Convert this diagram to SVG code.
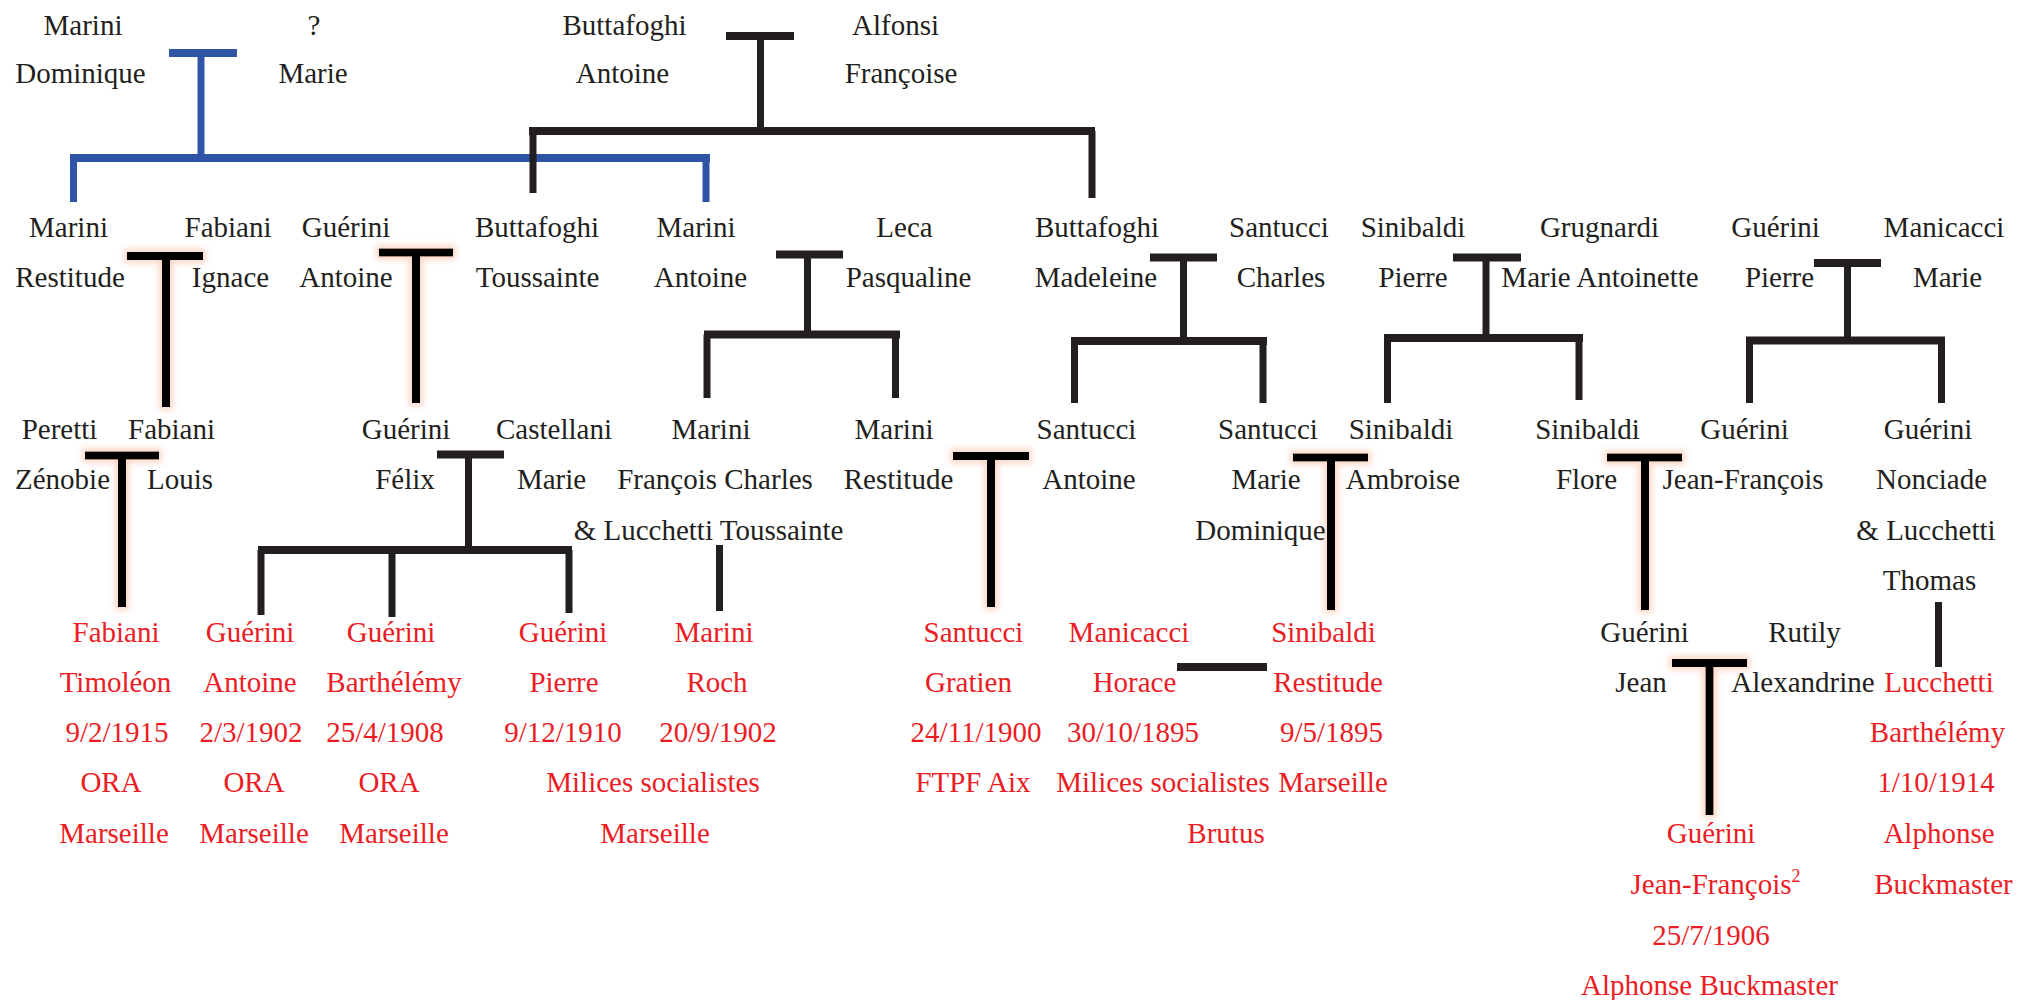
<svg xmlns="http://www.w3.org/2000/svg" width="2018" height="1000" viewBox="0 0 2018 1000">
<style>
text{font-family:"Liberation Serif","Times New Roman",serif;font-size:29px;text-anchor:middle;fill:#231f20}
.r text{fill:#ed1c24}
.k{fill:none;stroke:#231f20;stroke-width:7}
.kb{fill:none;stroke:#231f20;stroke-width:8}
.b{fill:none;stroke:#2f54a5;stroke-width:7}
.bb{fill:none;stroke:#2f54a5;stroke-width:8}
.g path{fill:none;stroke:#000;stroke-width:8}
</style>
<defs>
<filter id="glow" filterUnits="userSpaceOnUse" x="0" y="0" width="2018" height="1000">
<feMorphology in="SourceAlpha" operator="dilate" radius="3" result="d"/>
<feGaussianBlur in="d" stdDeviation="3" result="bl"/>
<feFlood flood-color="#f6a37e" flood-opacity="0.45"/>
<feComposite in2="bl" operator="in" result="gl"/>
<feMerge><feMergeNode in="gl"/><feMergeNode in="SourceGraphic"/></feMerge>
</filter>
</defs>
<rect width="2018" height="1000" fill="#fff"/>

<g id="connectors">
<!-- blue family -->
<path class="bb" d="M169 53H237"/>
<path class="b" d="M201 53V158"/>
<path class="bb" d="M70 158H710"/>
<path class="b" d="M73.5 158V202M706 158V202"/>
<!-- Buttafoghi/Alfonsi -->
<path class="kb" d="M726 36H794"/>
<path class="k" d="M760.5 36V131"/>
<path class="kb" d="M529 131H1095"/>
<path class="k" d="M533 131V193M1092 131V198"/>
<!-- glow Ts -->
<g class="g" filter="url(#glow)"><path d="M127 256H203M166 256V407"/></g>
<g class="g" filter="url(#glow)"><path d="M379 252.5H453M416 252.5V403"/></g>
<g class="g" filter="url(#glow)"><path d="M85 455.5H159M122 455.5V607"/></g>
<g class="g" filter="url(#glow)"><path d="M953 456H1029M991 456V607"/></g>
<g class="g" filter="url(#glow)"><path d="M1293 457.5H1368M1331 457.5V610"/></g>
<g class="g" filter="url(#glow)"><path d="M1607 457.5H1682M1645 457.5V610"/></g>
<g class="g" filter="url(#glow)"><path d="M1672 663H1747M1709.5 663V815"/></g>
<!-- Guérini Félix / Castellani -->
<path class="kb" d="M437 454.5H504"/>
<path class="k" d="M468.5 454.5V550"/>
<path class="kb" d="M258 550H572"/>
<path class="k" d="M261 550V615M392 550V617M569 550V613"/>
<!-- Marini François Charles -->
<path class="k" d="M719.5 545V611"/>
<!-- Marini/Leca -->
<path class="kb" d="M776 254.5H843"/>
<path class="k" d="M807.5 254.5V334.5"/>
<path class="kb" d="M704 334.5H900"/>
<path class="k" d="M707 334.5V398M895.5 334.5V398"/>
<!-- Buttafoghi/Santucci -->
<path class="kb" d="M1150 257.5H1217"/>
<path class="k" d="M1183.5 257.5V341"/>
<path class="kb" d="M1071 341H1267"/>
<path class="k" d="M1074.5 341V403M1263 341V403"/>
<!-- Sinibaldi/Grugnardi -->
<path class="kb" d="M1453 257.5H1521"/>
<path class="k" d="M1486 257.5V338"/>
<path class="kb" d="M1384 338H1583"/>
<path class="k" d="M1387.5 338V403M1579 338V400"/>
<!-- Guérini/Manicacci -->
<path class="kb" d="M1814 263H1881"/>
<path class="k" d="M1847.5 263V340.5"/>
<path class="kb" d="M1746 340.5H1945"/>
<path class="k" d="M1749.5 340.5V403M1941.5 340.5V403"/>
<!-- Manicacci Horace - Sinibaldi Restitude -->
<path class="kb" d="M1177 667H1267"/>
<!-- Lucchetti -->
<path class="k" d="M1938.5 602V667"/>
</g>

<g id="marini-dominique"><text x="83" y="35">Marini</text><text x="80.5" y="83">Dominique</text></g>
<g id="unknown-marie"><text x="314" y="35">?</text><text x="313" y="83">Marie</text></g>
<g id="buttafoghi-antoine"><text x="624.5" y="35">Buttafoghi</text><text x="622.5" y="83">Antoine</text></g>
<g id="alfonsi-francoise"><text x="895.5" y="35">Alfonsi</text><text x="901" y="83">Françoise</text></g>

<g id="marini-restitude"><text x="68.5" y="237">Marini</text><text x="70" y="287">Restitude</text></g>
<g id="fabiani-ignace"><text x="228" y="237">Fabiani</text><text x="230.5" y="287">Ignace</text></g>
<g id="guerini-antoine"><text x="346" y="237">Guérini</text><text x="346" y="287">Antoine</text></g>
<g id="buttafoghi-toussainte"><text x="537" y="237">Buttafoghi</text><text x="537.5" y="287">Toussainte</text></g>
<g id="marini-antoine"><text x="696" y="237">Marini</text><text x="700.5" y="287">Antoine</text></g>
<g id="leca-pasqualine"><text x="904.5" y="237">Leca</text><text x="908.5" y="287">Pasqualine</text></g>
<g id="buttafoghi-madeleine"><text x="1097" y="237">Buttafoghi</text><text x="1096" y="287">Madeleine</text></g>
<g id="santucci-charles"><text x="1279" y="237">Santucci</text><text x="1281" y="287">Charles</text></g>
<g id="sinibaldi-pierre"><text x="1413" y="237">Sinibaldi</text><text x="1413" y="287">Pierre</text></g>
<g id="grugnardi-marie-antoinette"><text x="1599.5" y="237">Grugnardi</text><text x="1600" y="287">Marie Antoinette</text></g>
<g id="guerini-pierre"><text x="1775.5" y="237">Guérini</text><text x="1779.5" y="287">Pierre</text></g>
<g id="manicacci-marie"><text x="1944" y="237">Manicacci</text><text x="1947.5" y="287">Marie</text></g>

<g id="peretti-zenobie"><text x="59.5" y="439">Peretti</text><text x="62.5" y="489">Zénobie</text></g>
<g id="fabiani-louis"><text x="171.5" y="439">Fabiani</text><text x="180" y="489">Louis</text></g>
<g id="guerini-felix"><text x="406" y="439">Guérini</text><text x="405" y="489">Félix</text></g>
<g id="castellani-marie"><text x="554" y="439">Castellani</text><text x="551.5" y="489">Marie</text></g>
<g id="marini-francois-charles"><text x="711" y="439">Marini</text><text x="715" y="489">François Charles</text><text x="708.5" y="540">&amp; Lucchetti Toussainte</text></g>
<g id="marini-restitude-2"><text x="894" y="439">Marini</text><text x="898.5" y="489">Restitude</text></g>
<g id="santucci-antoine"><text x="1086.5" y="439">Santucci</text><text x="1089" y="489">Antoine</text></g>
<g id="santucci-marie-dominique"><text x="1268" y="439">Santucci</text><text x="1266" y="489">Marie</text><text x="1260.5" y="540">Dominique</text></g>
<g id="sinibaldi-ambroise"><text x="1401" y="439">Sinibaldi</text><text x="1403" y="489">Ambroise</text></g>
<g id="sinibaldi-flore"><text x="1587.5" y="439">Sinibaldi</text><text x="1586.5" y="489">Flore</text></g>
<g id="guerini-jean-francois"><text x="1744.5" y="439">Guérini</text><text x="1743" y="489">Jean-François</text></g>
<g id="guerini-nonciade"><text x="1928" y="439">Guérini</text><text x="1931.5" y="489">Nonciade</text><text x="1926" y="540">&amp; Lucchetti</text><text x="1929.5" y="590">Thomas</text></g>

<g id="guerini-jean"><text x="1644.5" y="642">Guérini</text><text x="1641" y="692">Jean</text></g>
<g id="rutily-alexandrine"><text x="1804.5" y="642">Rutily</text><text x="1803" y="692">Alexandrine</text></g>

<g id="fabiani-timoleon" class="r"><text x="116" y="642">Fabiani</text><text x="115.5" y="692">Timoléon</text><text x="117" y="742">9/2/1915</text><text x="111" y="792">ORA</text><text x="114" y="843">Marseille</text></g>
<g id="guerini-antoine-1902" class="r"><text x="250" y="642">Guérini</text><text x="250" y="692">Antoine</text><text x="251" y="742">2/3/1902</text><text x="254" y="792">ORA</text><text x="254" y="843">Marseille</text></g>
<g id="guerini-barthelemy" class="r"><text x="391" y="642">Guérini</text><text x="394" y="692">Barthélémy</text><text x="385" y="742">25/4/1908</text><text x="389" y="792">ORA</text><text x="394" y="843">Marseille</text></g>
<g id="guerini-pierre-1910" class="r"><text x="563" y="642">Guérini</text><text x="564" y="692">Pierre</text><text x="563" y="742">9/12/1910</text></g>
<g id="marini-roch" class="r"><text x="714" y="642">Marini</text><text x="717" y="692">Roch</text><text x="718" y="742">20/9/1902</text></g>
<g id="milices-marseille" class="r"><text x="653" y="792">Milices socialistes</text><text x="655" y="843">Marseille</text></g>
<g id="santucci-gratien" class="r"><text x="973.5" y="642">Santucci</text><text x="968.5" y="692">Gratien</text><text x="976" y="742">24/11/1900</text><text x="973" y="792">FTPF Aix</text></g>
<g id="manicacci-horace" class="r"><text x="1129" y="642">Manicacci</text><text x="1134.5" y="692">Horace</text><text x="1133" y="742">30/10/1895</text><text x="1163" y="792">Milices socialistes</text><text x="1226" y="843">Brutus</text></g>
<g id="sinibaldi-restitude" class="r"><text x="1323.5" y="642">Sinibaldi</text><text x="1328" y="692">Restitude</text><text x="1331.5" y="742">9/5/1895</text><text x="1333" y="792">Marseille</text></g>
<g id="lucchetti-barthelemy" class="r"><text x="1939" y="692">Lucchetti</text><text x="1937.5" y="742">Barthélémy</text><text x="1936" y="792">1/10/1914</text><text x="1939" y="843">Alphonse</text><text x="1943.5" y="894">Buckmaster</text></g>
<g id="guerini-jean-francois-1906" class="r"><text x="1711" y="843">Guérini</text><text x="1715.5" y="894">Jean-François<tspan dy="-12" font-size="18">2</tspan></text><text x="1711" y="945">25/7/1906</text><text x="1709.5" y="995">Alphonse Buckmaster</text></g>
</svg>
